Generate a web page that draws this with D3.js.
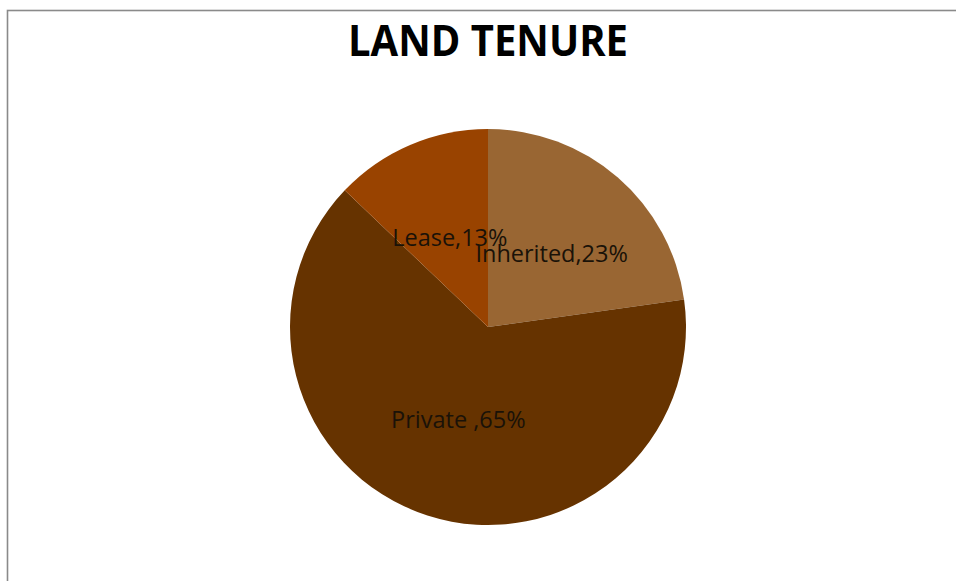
<!DOCTYPE html>
<html>
<head>
<meta charset="utf-8">
<script src="https://cdn.jsdelivr.net/npm/d3@7"></script>
<style>
  html, body { margin: 0; padding: 0; background: #fff; }
  svg { display: block; }
</style>
</head>
<body>
<svg id="chart" width="956" height="581"></svg>
<script>
// Land tenure shares (percent)
const categories = ["Inherited", "Private ", "Lease"];
const shares = [23, 65, 13];
const sliceColors = ["#996633", "#663300", "#994300"];
const titleText = "LAND TENURE";

const width = 956, height = 581;
const cx = 488, cy = 327, radius = 198;

const svg = d3.select("#chart");

// Chart frame
svg.append("rect")
  .attr("x", 7.5).attr("y", 10.5)
  .attr("width", 1000).attr("height", 700)
  .attr("fill", "#fff")
  .attr("stroke", "#8a8a8a")
  .attr("stroke-width", 1.6);

// Title
svg.append("text")
  .attr("x", cx).attr("y", 56)
  .attr("text-anchor", "middle")
  .attr("font-family", "'Open Sans', sans-serif")
  .attr("font-weight", 700)
  .attr("font-size", 43)
  .attr("textLength", 280)
  .attr("lengthAdjust", "spacingAndGlyphs")
  .attr("fill", "#000")
  .text(titleText);

const data = categories.map((c, i) => ({ name: c, value: shares[i], color: sliceColors[i] }));

const pie = d3.pie().sort(null).value(d => d.value);
const arc = d3.arc().innerRadius(0).outerRadius(radius);
const labelArc = d3.arc().innerRadius(radius * 0.49).outerRadius(radius * 0.49);

const g = svg.append("g").attr("transform", `translate(${cx},${cy})`);
const arcs = pie(data);

g.selectAll("path.slice")
  .data(arcs)
  .join("path")
  .attr("class", "slice")
  .attr("d", arc)
  .attr("fill", d => d.data.color);

g.selectAll("text.lbl")
  .data(arcs)
  .join("text")
  .attr("class", "lbl")
  .attr("transform", d => `translate(${labelArc.centroid(d)})`)
  .attr("text-anchor", "middle")
  .attr("dy", "0.35em")
  .attr("font-family", "'Open Sans', sans-serif")
  .attr("font-size", 23.5)
  .attr("fill", "#1a1208")
  .text(d => `${d.data.name},${d.data.value}%`);
</script>
</body>
</html>
